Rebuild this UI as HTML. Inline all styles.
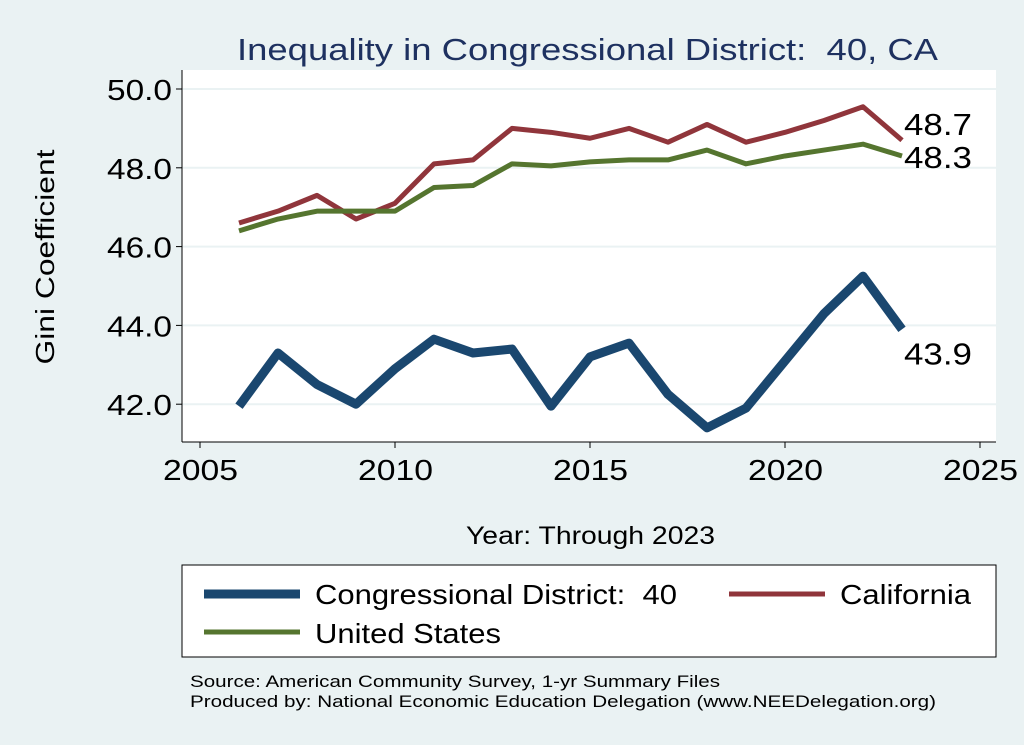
<!DOCTYPE html>
<html><head><meta charset="utf-8"><style>
body{margin:0;background:#eaf2f3;}
svg{display:block;font-family:"Liberation Sans",Arial,sans-serif;}
</style></head><body>
<svg width="1024" height="745">
<rect x="0" y="0" width="1024" height="745" fill="#eaf2f3"/>
<text x="237" y="60" font-size="31" fill="#1e3160" textLength="701" lengthAdjust="spacingAndGlyphs">Inequality in Congressional District:&#160; 40, CA</text>
<rect x="182" y="70" width="814" height="372" fill="#fff"/>
<g id="grid"></g>
<line x1="182" y1="70" x2="182" y2="442" stroke="#000"/>
<line x1="182" y1="442" x2="996" y2="442" stroke="#000"/>
<g id="ticks"></g>
<g id="series"></g>
<text x="54" y="257" font-size="26" text-anchor="middle" textLength="215" lengthAdjust="spacingAndGlyphs" transform="rotate(-90 54 257)">Gini Coefficient</text>
<text x="466" y="544" font-size="25" textLength="249" lengthAdjust="spacingAndGlyphs">Year: Through 2023</text>
<rect x="182" y="565" width="814" height="92" fill="#fff" stroke="#000" stroke-width="1"/>
<g>
<line x1="204" y1="594" x2="300" y2="594" stroke="#1a476f" stroke-width="9"/>
<text x="315" y="604" font-size="28" textLength="362" lengthAdjust="spacingAndGlyphs">Congressional District:&#160; 40</text></g>
<g>
<line x1="729" y1="594" x2="825" y2="594" stroke="#90353b" stroke-width="5"/>
<text x="840" y="604" font-size="28" textLength="131" lengthAdjust="spacingAndGlyphs">California</text></g>
<g>
<line x1="204" y1="632" x2="300" y2="632" stroke="#55752f" stroke-width="5"/>
<text x="315" y="643" font-size="28" textLength="186" lengthAdjust="spacingAndGlyphs">United States</text></g>
<text x="190" y="687" font-size="17" textLength="530" lengthAdjust="spacingAndGlyphs">Source: American Community Survey, 1-yr Summary Files</text>
<text x="190" y="707" font-size="17" textLength="746" lengthAdjust="spacingAndGlyphs">Produced by: National Economic Education Delegation (www.NEEDelegation.org)</text>
</svg>
<script>
const years=[2006,2007,2008,2009,2010,2011,2012,2013,2014,2015,2016,2017,2018,2019,2020,2021,2022,2023];
const district=[41.95,43.3,42.5,42.0,42.9,43.65,43.3,43.4,41.95,43.2,43.55,42.25,41.4,41.9,43.1,44.3,45.25,43.9];
const california=[46.6,46.9,47.3,46.7,47.1,48.1,48.2,49.0,48.9,48.75,49.0,48.65,49.1,48.65,48.9,49.2,49.55,48.7];
const unitedStates=[46.4,46.7,46.9,46.9,46.9,47.5,47.55,48.1,48.05,48.15,48.2,48.2,48.45,48.1,48.3,48.45,48.6,48.3];
const yTicks=[42,44,46,48,50];
const xTicks=[2005,2010,2015,2020,2025];
const NS="http://www.w3.org/2000/svg";
const x=v=>200+(v-2005)*39;
const y=v=>89+(50-v)*39.4;
function mk(t,a,p){const e=document.createElementNS(NS,t);for(const k in a)e.setAttribute(k,a[k]);p.appendChild(e);return e;}
const grid=document.getElementById('grid'),ticks=document.getElementById('ticks'),ser=document.getElementById('series');
yTicks.forEach(v=>{
 const g=mk('line',{x1:182,x2:996,y1:y(v),y2:y(v),stroke:'#eaf2f3','stroke-width':2},grid);
 
 
 mk('line',{x1:176,x2:182,y1:y(v),y2:y(v),stroke:'#000'},ticks);
 const t=mk('text',{x:107,y:y(v)+11,'font-size':29,textLength:65,lengthAdjust:'spacingAndGlyphs'},ticks);
 t.textContent=v.toFixed(1);
 
 
});
xTicks.forEach(v=>{
 mk('line',{x1:x(v),x2:x(v),y1:442,y2:448,stroke:'#000'},ticks);
 const t=mk('text',{x:x(v)-37,y:480,'font-size':29,textLength:75,lengthAdjust:'spacingAndGlyphs'},ticks);
 t.textContent=v;
 
 
});
function line(data,color,w,name){
 const p=mk('polyline',{points:data.map((d,i)=>x(years[i])+','+y(d)).join(' '),fill:'none',stroke:color,'stroke-width':w,'stroke-linejoin':'round'},ser);
 
 
}
line(california,'#90353b',5,'california-line');
line(unitedStates,'#55752f',5,'united-states-line');
line(district,'#1a476f',9,'district-line');
const n=years.length-1;
[[california,-5,'california-end-label'],[unitedStates,12,'united-states-end-label'],[district,35,'district-end-label']].forEach(([d,dy,nm])=>{
 const t=mk('text',{x:x(years[n])+2,y:y(d[n])+dy,'font-size':31,textLength:68,lengthAdjust:'spacingAndGlyphs'},ser);
 t.textContent=d[n].toFixed(1);
 
 
});
</script>
</body></html>
